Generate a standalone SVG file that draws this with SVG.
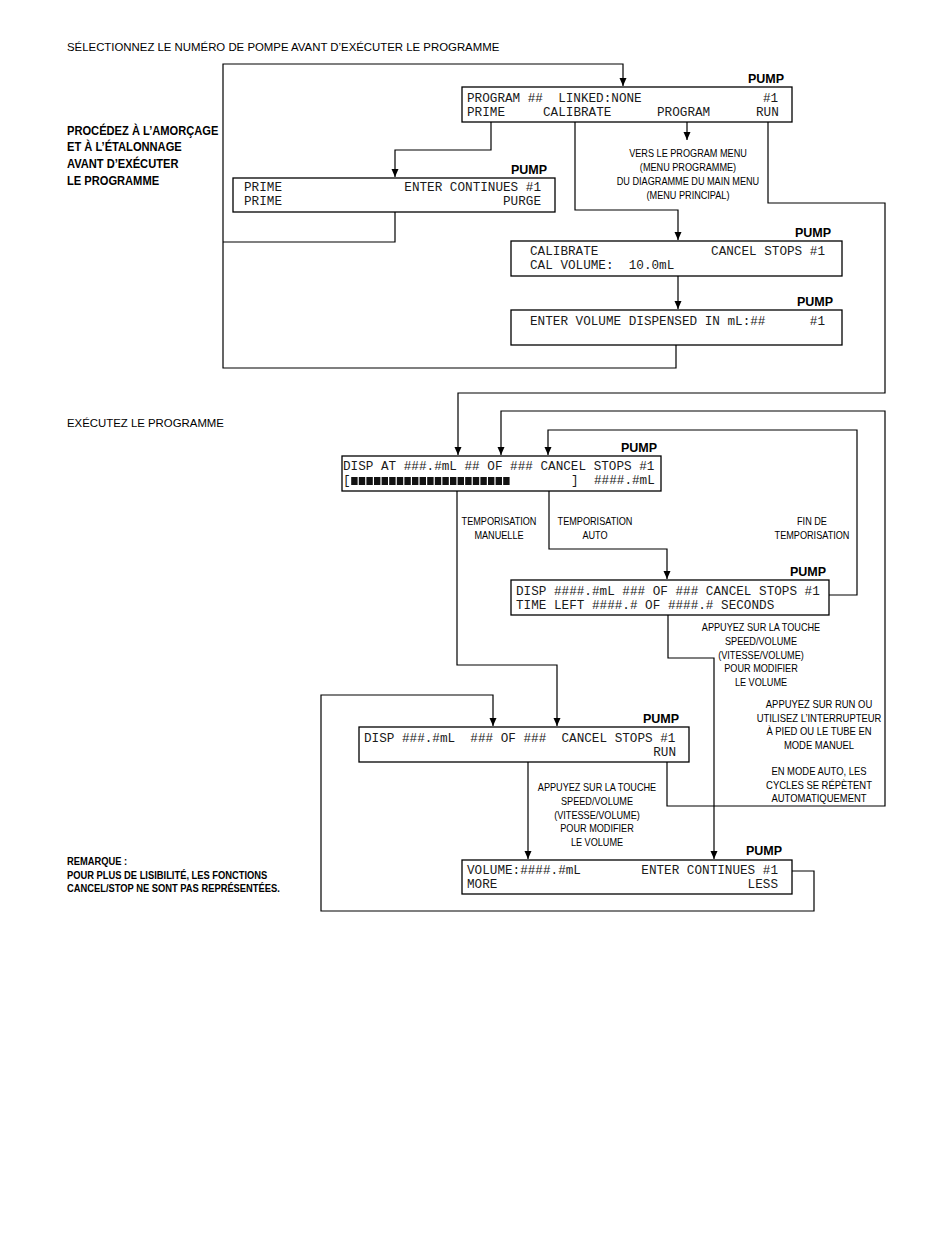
<svg xmlns="http://www.w3.org/2000/svg" width="950" height="1254" viewBox="0 0 950 1254">
<style>
.box{fill:#fff;stroke:#000;stroke-width:1.3}
.lcd{font-family:"Liberation Mono","DejaVu Sans Mono",monospace;font-size:12.67px;fill:#1a1a1a}
.pump{font-family:"Liberation Sans",Arial,sans-serif;font-size:12.5px;font-weight:bold;text-anchor:end}
.hdr{font-family:"Liberation Sans",Arial,sans-serif;font-size:11.4px}
.bold{font-family:"Liberation Sans",Arial,sans-serif;font-size:12.5px;font-weight:bold}
.note{font-family:"Liberation Sans",Arial,sans-serif;font-size:10px;font-weight:bold}
.ann{font-family:"Liberation Sans",Arial,sans-serif;font-size:10.5px;text-anchor:middle}
.con{fill:none;stroke:#000;stroke-width:1.2}
.blk{fill:#111}
</style>
<defs>
<marker id="ah" viewBox="0 0 8 10" refX="8" refY="5" markerWidth="8" markerHeight="10" markerUnits="userSpaceOnUse" orient="auto">
<path d="M0,1.5 L8,5 L0,8.5 z" fill="#000"/>
</marker>
</defs>
<rect width="950" height="1254" fill="#fff"/>

<g id="labels">
<text class="hdr" x="67" y="51">SÉLECTIONNEZ LE NUMÉRO DE POMPE AVANT D’EXÉCUTER LE PROGRAMME</text>
<g transform="translate(67,0) scale(0.89,1)">
<text class="bold" x="0" y="135">PROCÉDEZ À L’AMORÇAGE</text>
<text class="bold" x="0" y="151">ET À L’ÉTALONNAGE</text>
<text class="bold" x="0" y="168">AVANT D’EXÉCUTER</text>
<text class="bold" x="0" y="185">LE PROGRAMME</text>
</g>
<text class="hdr" x="67" y="427">EXÉCUTEZ LE PROGRAMME</text>
<g transform="translate(67,0) scale(0.935,1)">
<text class="note" x="0" y="865">REMARQUE :</text>
<text class="note" x="0" y="879">POUR PLUS DE LISIBILITÉ, LES FONCTIONS</text>
<text class="note" x="0" y="892">CANCEL/STOP NE SONT PAS REPRÉSENTÉES.</text>
</g>
<g transform="translate(688,0) scale(0.87,1)">
<text class="ann" x="0" y="157">VERS LE PROGRAM MENU</text>
<text class="ann" x="0" y="171">(MENU PROGRAMME)</text>
<text class="ann" x="0" y="185">DU DIAGRAMME DU MAIN MENU</text>
<text class="ann" x="0" y="199">(MENU PRINCIPAL)</text>
</g>
<g transform="translate(499,0) scale(0.87,1)">
<text class="ann" x="0" y="525">TEMPORISATION</text>
<text class="ann" x="0" y="539">MANUELLE</text>
</g>
<g transform="translate(595,0) scale(0.87,1)">
<text class="ann" x="0" y="525">TEMPORISATION</text>
<text class="ann" x="0" y="539">AUTO</text>
</g>
<g transform="translate(812,0) scale(0.87,1)">
<text class="ann" x="0" y="525">FIN DE</text>
<text class="ann" x="0" y="539">TEMPORISATION</text>
</g>
<g transform="translate(761,0) scale(0.87,1)">
<text class="ann" x="0" y="631">APPUYEZ SUR LA TOUCHE</text>
<text class="ann" x="0" y="645">SPEED/VOLUME</text>
<text class="ann" x="0" y="659">(VITESSE/VOLUME)</text>
<text class="ann" x="0" y="672">POUR MODIFIER</text>
<text class="ann" x="0" y="686">LE VOLUME</text>
</g>
<g transform="translate(819,0) scale(0.9,1)">
<text class="ann" x="0" y="708">APPUYEZ SUR RUN OU</text>
<text class="ann" x="0" y="722">UTILISEZ L’INTERRUPTEUR</text>
<text class="ann" x="0" y="735">À PIED OU LE TUBE EN</text>
<text class="ann" x="0" y="749">MODE MANUEL</text>
<text class="ann" x="0" y="775">EN MODE AUTO, LES</text>
<text class="ann" x="0" y="789">CYCLES SE RÉPÈTENT</text>
<text class="ann" x="0" y="802">AUTOMATIQUEMENT</text>
</g>
<g transform="translate(597,0) scale(0.87,1)">
<text class="ann" x="0" y="791">APPUYEZ SUR LA TOUCHE</text>
<text class="ann" x="0" y="805">SPEED/VOLUME</text>
<text class="ann" x="0" y="819">(VITESSE/VOLUME)</text>
<text class="ann" x="0" y="832">POUR MODIFIER</text>
<text class="ann" x="0" y="846">LE VOLUME</text>
</g>
</g>

<g id="connectors">
<path class="con" d="M676,345 V368 H223 V64 H623 V86" marker-end="url(#ah)"/>
<path class="con" d="M395,212 V242 H223"/>
<path class="con" d="M491,122 V150 H395 V177" marker-end="url(#ah)"/>
<path class="con" d="M575,122 V210 H678 V240" marker-end="url(#ah)"/>
<path class="con" d="M687,122 V140" marker-end="url(#ah)"/>
<path class="con" d="M768,122 V203 H885 V393 H458 V455" marker-end="url(#ah)"/>
<path class="con" d="M678,276 V309" marker-end="url(#ah)"/>
<path class="con" d="M829,595 H857 V430 H548 V455" marker-end="url(#ah)"/>
<path class="con" d="M667,762 V806 H885 V411 H501 V455" marker-end="url(#ah)"/>
<path class="con" d="M457,491 V665 H557 V726" marker-end="url(#ah)"/>
<path class="con" d="M549,491 V549 H667 V579" marker-end="url(#ah)"/>
<path class="con" d="M668,615 V658 H714 V859" marker-end="url(#ah)"/>
<path class="con" d="M528,762 V859" marker-end="url(#ah)"/>
<path class="con" d="M792,871 H814 V911 H321 V695 H493 V726" marker-end="url(#ah)"/>
</g>

<g id="node-program">
<rect class="box" x="462" y="87" width="330" height="35"/>
<text class="pump" x="784" y="83">PUMP</text>
<text class="lcd" x="467" y="102" xml:space="preserve">PROGRAM ##  LINKED:NONE</text>
<text class="lcd" x="763" y="102">#1</text>
<text class="lcd" x="467" y="116">PRIME</text>
<text class="lcd" x="543" y="116">CALIBRATE</text>
<text class="lcd" x="657" y="116">PROGRAM</text>
<text class="lcd" x="756" y="116">RUN</text>
</g>

<g id="node-prime">
<rect class="box" x="233" y="178" width="322" height="34"/>
<text class="pump" x="547" y="174">PUMP</text>
<text class="lcd" x="244" y="191">PRIME</text>
<text class="lcd" x="541" y="191" text-anchor="end">ENTER CONTINUES #1</text>
<text class="lcd" x="244" y="205">PRIME</text>
<text class="lcd" x="541" y="205" text-anchor="end">PURGE</text>
</g>

<g id="node-calibrate">
<rect class="box" x="511" y="241" width="331" height="35"/>
<text class="pump" x="831" y="237">PUMP</text>
<text class="lcd" x="530" y="255">CALIBRATE</text>
<text class="lcd" x="825" y="255" text-anchor="end">CANCEL STOPS #1</text>
<text class="lcd" x="530" y="269" xml:space="preserve">CAL VOLUME:  10.0mL</text>
</g>

<g id="node-enter-volume">
<rect class="box" x="511" y="310" width="331" height="35"/>
<text class="pump" x="833" y="306">PUMP</text>
<text class="lcd" x="530" y="325">ENTER VOLUME DISPENSED IN mL:##</text>
<text class="lcd" x="825" y="325" text-anchor="end">#1</text>
</g>

<g id="node-disp-at">
<rect class="box" x="342" y="456" width="319" height="35"/>
<text class="pump" x="657" y="452">PUMP</text>
<text class="lcd" x="343" y="470">DISP AT ###.#mL ## OF ### CANCEL STOPS #1</text>
<text class="lcd" x="343" y="484">[</text>
<g class="blk">
<rect x="351.2" y="477" width="6.4" height="8"/><rect x="358.8" y="477" width="6.4" height="8"/><rect x="366.4" y="477" width="6.4" height="8"/><rect x="374" y="477" width="6.4" height="8"/><rect x="381.6" y="477" width="6.4" height="8"/><rect x="389.2" y="477" width="6.4" height="8"/><rect x="396.8" y="477" width="6.4" height="8"/><rect x="404.4" y="477" width="6.4" height="8"/><rect x="412" y="477" width="6.4" height="8"/><rect x="419.6" y="477" width="6.4" height="8"/><rect x="427.2" y="477" width="6.4" height="8"/><rect x="434.8" y="477" width="6.4" height="8"/><rect x="442.4" y="477" width="6.4" height="8"/><rect x="450" y="477" width="6.4" height="8"/><rect x="457.6" y="477" width="6.4" height="8"/><rect x="465.2" y="477" width="6.4" height="8"/><rect x="472.8" y="477" width="6.4" height="8"/><rect x="480.4" y="477" width="6.4" height="8"/><rect x="488" y="477" width="6.4" height="8"/><rect x="495.6" y="477" width="6.4" height="8"/><rect x="503.2" y="477" width="6.4" height="8"/>
</g>
<text class="lcd" x="571" y="484">]</text>
<text class="lcd" x="594" y="484">####.#mL</text>
</g>

<g id="node-disp-time">
<rect class="box" x="511" y="580" width="318" height="35"/>
<text class="pump" x="826" y="576">PUMP</text>
<text class="lcd" x="516" y="595">DISP ####.#mL ### OF ### CANCEL STOPS #1</text>
<text class="lcd" x="516" y="609">TIME LEFT ####.# OF ####.# SECONDS</text>
</g>

<g id="node-disp-run">
<rect class="box" x="359" y="727" width="330" height="35"/>
<text class="pump" x="679" y="723">PUMP</text>
<text class="lcd" x="364" y="742" xml:space="preserve">DISP ###.#mL  ### OF ###  CANCEL STOPS #1</text>
<text class="lcd" x="676" y="756" text-anchor="end">RUN</text>
</g>

<g id="node-volume">
<rect class="box" x="462" y="860" width="330" height="34"/>
<text class="pump" x="782" y="855">PUMP</text>
<text class="lcd" x="467" y="874">VOLUME:####.#mL</text>
<text class="lcd" x="778" y="874" text-anchor="end">ENTER CONTINUES #1</text>
<text class="lcd" x="467" y="888">MORE</text>
<text class="lcd" x="778" y="888" text-anchor="end">LESS</text>
</g>
</svg>
